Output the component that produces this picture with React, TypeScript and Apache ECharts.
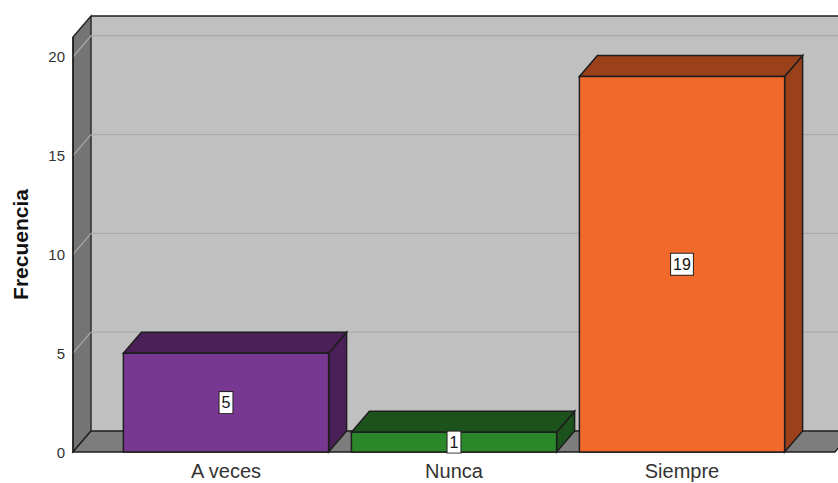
import React, { useEffect, useRef } from "react";
import * as echarts from "echarts";

const categories = ["A veces", "Nunca", "Siempre"];
const frequencies = [5, 1, 19];
const yTicks = [0, 5, 10, 15, 20];
const yMax = 21;

const frontColors = ["#783891", "#2a882a", "#f2692c"];
const darkColors = ["#4b2058", "#1c521c", "#9a401b"];

const DX = 18;
const DY = -21;
const EDGE = "#1e1e1e";
const FONT = "Arial, 'Liberation Sans', sans-serif";

export default function App() {
  const ref = useRef<HTMLDivElement>(null);

  useEffect(() => {
    if (!ref.current) return;
    const chart = echarts.init(ref.current, null, { renderer: "svg" });

    const wallRender = (params: any, api: any) => {
      const cs = params.coordSys;
      const band = api.size([1, 0])[0];
      const pad = band * 0.171;
      const fl = cs.x - pad;
      const fr = cs.x + cs.width + pad;
      const y0 = api.coord([0, 0])[1];
      const yT = api.coord([0, yMax])[1];
      const bl = fl + DX;
      const br = fr + DX;
      const children: any[] = [];
      children.push({
        type: "polygon",
        shape: { points: [[bl, yT + DY], [br, yT + DY], [br, y0 + DY], [bl, y0 + DY]] },
        style: { fill: "#c0c0c0", stroke: "none" },
      });
      children.push({
        type: "polygon",
        shape: { points: [[fl, yT], [bl, yT + DY], [bl, y0 + DY], [fl, y0]] },
        style: { fill: "#747474", stroke: EDGE, lineWidth: 1.3 },
      });
      children.push({
        type: "polygon",
        shape: { points: [[fl, y0], [bl, y0 + DY], [br, y0 + DY], [fr, y0]] },
        style: { fill: "#7d7d7d", stroke: EDGE, lineWidth: 1.3 },
      });
      yTicks.forEach((t) => {
        if (t === 0) return;
        const y = api.coord([0, t])[1];
        children.push({
          type: "line",
          shape: { x1: bl, y1: y + DY, x2: br, y2: y + DY },
          style: { stroke: "#acacac", lineWidth: 1.3 },
        });
        children.push({
          type: "line",
          shape: { x1: fl, y1: y, x2: bl, y2: y + DY },
          style: { stroke: "#a8a8a8", lineWidth: 1.3 },
        });
      });
      children.push({
        type: "line",
        shape: { x1: bl, y1: yT + DY, x2: br, y2: yT + DY },
        style: { stroke: EDGE, lineWidth: 1.3 },
      });
      children.push({
        type: "line",
        shape: { x1: fl, y1: yT, x2: fl, y2: y0 },
        style: { stroke: EDGE, lineWidth: 1.5 },
      });
      return { type: "group", children };
    };

    const barRender = (params: any, api: any) => {
      const i = api.value(0);
      const v = api.value(1);
      const [cx, yTop] = api.coord([i, v]);
      const y0 = api.coord([i, 0])[1];
      const bw = api.size([1, 0])[0] * 0.9;
      const x0 = cx - bw / 2;
      const x1 = cx + bw / 2;
      const front = frontColors[i];
      const dark = darkColors[i];
      return {
        type: "group",
        children: [
          {
            type: "polygon",
            shape: { points: [[x1, yTop], [x1 + DX, yTop + DY], [x1 + DX, y0 + DY], [x1, y0]] },
            style: { fill: dark, stroke: EDGE, lineWidth: 1.5 },
          },
          {
            type: "polygon",
            shape: { points: [[x0, yTop], [x0 + DX, yTop + DY], [x1 + DX, yTop + DY], [x1, yTop]] },
            style: { fill: dark, stroke: EDGE, lineWidth: 1.5 },
          },
          {
            type: "rect",
            shape: { x: x0, y: yTop, width: bw, height: y0 - yTop },
            style: { fill: front, stroke: EDGE, lineWidth: 1.5 },
          },
          {
            type: "text",
            x: cx,
            y: (yTop + y0) / 2,
            style: {
              text: String(v),
              fill: "#111",
              fontSize: 16,
              fontFamily: FONT,
              align: "center",
              verticalAlign: "middle",
              backgroundColor: "#ffffff",
              borderColor: "#222",
              borderWidth: 1,
              padding: [3, 2, 2, 2],
            },
          },
        ],
      };
    };

    chart.setOption({
      animation: false,
      backgroundColor: "#ffffff",
      grid: { left: 112, right: 42, top: 37, bottom: 31, containLabel: false },
      xAxis: {
        type: "category",
        data: categories,
        axisLine: { show: false },
        axisTick: { show: false },
        axisLabel: { fontSize: 20, color: "#333", margin: 9, fontFamily: FONT },
        splitLine: { show: false },
      },
      yAxis: {
        type: "value",
        min: 0,
        max: yMax,
        interval: 5,
        offset: 39,
        name: "Frecuencia",
        nameLocation: "middle",
        nameRotate: 90,
        nameGap: 42,
        nameTextStyle: { fontSize: 21, fontWeight: "bold", color: "#111", fontFamily: FONT },
        axisLine: { show: false },
        axisTick: { show: false },
        splitLine: { show: false },
        axisLabel: {
          fontSize: 15,
          color: "#333",
          margin: 8,
          showMaxLabel: false,
          fontFamily: FONT,
          formatter: (val: number) => (yTicks.includes(val) ? String(val) : ""),
        },
      },
      series: [
        {
          type: "custom",
          silent: true,
          z: 1,
          renderItem: wallRender,
          data: [[0, 0]],
          encode: { x: 0, y: 1 },
        },
        {
          type: "custom",
          z: 2,
          renderItem: barRender,
          data: frequencies.map((v, i) => [i, v]),
          encode: { x: 0, y: 1 },
        },
      ],
    });

    return () => chart.dispose();
  }, []);

  return (
    <div
      ref={ref}
      style={{ position: "fixed", left: 0, top: 0, width: 838, height: 483, background: "#fff" }}
    />
  );
}
